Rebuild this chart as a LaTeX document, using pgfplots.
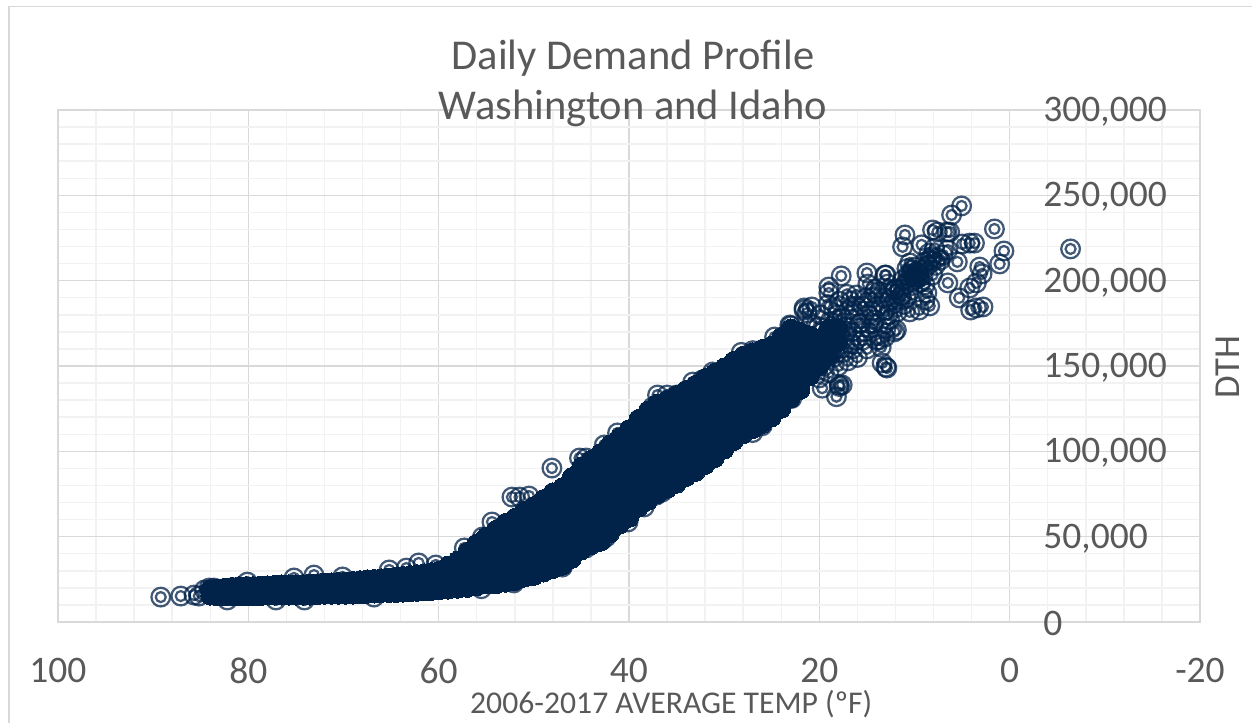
\documentclass[border=0pt]{standalone}
\usepackage{pgfplots}
\pgfplotsset{compat=1.18}
\usepackage{fontspec}
\setmainfont{Carlito}
\definecolor{navy}{HTML}{012249}
\definecolor{txt}{HTML}{595959}
\definecolor{gmaj}{HTML}{D9D9D9}
\definecolor{gmin}{HTML}{F2F2F2}
\pgfdeclareplotmark{ring2}{%
  \pgfpathcircle{\pgfpointorigin}{5.6pt}%
  \pgfpathcircle{\pgfpointorigin}{3.0pt}%
  \pgfusepathqstroke}
\begin{document}
\begin{tikzpicture}
\useasboundingbox (-34.8pt,-60.6pt) rectangle (716.4pt,373.2pt);
\draw[gmaj,line width=0.9pt] (-29.4pt,-60.6pt) -- (-29.4pt,369.3pt) -- (716.4pt,369.3pt);
\begin{axis}[
  at={(0,0)},anchor=south west,
  scale only axis,width=685.2pt,height=307.2pt,
  x dir=reverse,xmin=-20,xmax=100,ymin=0,ymax=300000,
  xtick={-20,0,20,40,60,80,100},
  ytick={0,50000,100000,150000,200000,250000,300000},
  minor x tick num=4,minor y tick num=4,
  grid=both,axis on top=false,
  major grid style={gmaj,line width=0.8pt},
  minor grid style={gmin,line width=0.9pt},
  axis line style={gmaj,line width=1pt},
  major tick length=0pt,minor tick length=0pt,
  tick style={draw=none},
  scaled y ticks=false,
  /pgf/number format/assume math mode=true,
  /pgf/number format/fixed,
  /pgf/number format/1000 sep={,},
  yticklabel pos=right,
  every tick label/.append style={font=\fontsize{22.5}{26}\selectfont,text=txt},
  yticklabel style={anchor=west,xshift=-97.5pt,yshift=-1pt},
  xticklabel style={yshift=-18pt},
  clip=false,
  title={Daily Demand Profile\\[0pt]Washington and Idaho},
  title style={at={(axis description cs:0.5035,1.033)},anchor=center,align=center,
    font=\fontsize{25.5}{30}\selectfont,text=txt},
  xlabel={2006-2017 AVERAGE TEMP (ºF)},
  xlabel style={at={(axis description cs:0.537,-0.16)},anchor=center,
    font=\fontsize{19}{22}\selectfont,text=txt},
  ylabel={DTH},
  ylabel style={at={(axis description cs:1.0245,0.498)},anchor=center,
    font=\fontsize{22}{26}\selectfont,text=txt},
]
% dense mass of overlapping daily points
\addplot[only marks,mark=*,mark size=5.7pt,mark options={fill=navy,draw=navy,line width=0pt}] coordinates {
(84,15500)(84,19000)(82.5,15000)(82.5,20000)(81,15000)(81,21000)(79.5,15000)(79.5,21000)
(78,15500)(78,21500)(76.5,15500)(76.5,22000)(75,15500)(75,22000)(73.5,15500)(73.5,22500)
(72,16000)(72,23000)(70.5,16000)(70.5,23500)(69,16000)(69,24000)(67.5,16500)(67.5,25000)
(66,17000)(66,25500)(64.5,17000)(64.5,26500)(63,17500)(63,27500)(61.5,18000)(61.5,28500)
(60,18500)(60,30000)
(83.25,15000)(83.25,19500)(81.75,15000)(81.75,20500)(80.25,15000)(80.25,21000)(78.75,15200)(78.75,21200)
(77.25,15500)(77.25,21700)(75.75,15500)(75.75,22000)(74.25,15500)(74.25,22200)(72.75,15700)(72.75,22700)
(71.25,16000)(71.25,23200)(69.75,16000)(69.75,23700)(68.25,16200)(68.25,24500)(66.75,16700)(66.75,25200)
(65.25,17000)(65.25,26000)(63.75,17200)(63.75,27000)(62.25,17700)(62.25,28000)(60.75,18200)(60.75,29200)
(66,21000)(63,22500)(61.5,23000)(60,24000)
(58.5,24000)(58.5,31000)(57.5,25000)(57.5,35000)
(56.5,25000)(56.5,33000)(56.5,41000)(55.5,26000)(55.5,35000)(55.5,44000)
(54.5,27000)(54.5,37000)(54.5,47000)(53.5,28000)(53.5,40000)(53.5,51000)
(52.5,29000)(52.5,41000)(52.5,53000)
(51.5,31000)(51.5,42000)(51.5,53000)(51.5,62000)(50.5,32000)(50.5,43000)(50.5,54000)(50.5,64000)
(49.5,33000)(49.5,44000)(49.5,55000)(49.5,67000)(48.5,35000)(48.5,46000)(48.5,58000)(48.5,69000)
(47.5,37000)(47.5,49000)(47.5,61000)(47.5,73000)(46.5,39000)(46.5,51000)(46.5,63000)(46.5,76000)
(45.5,43000)(45.5,55000)(45.5,68000)(45.5,81000)
(44.5,50000)(44.5,60000)(44.5,70000)(44.5,80000)(44.5,90000)
(43.5,52000)(43.5,62000)(43.5,72000)(43.5,84000)(43.5,93000)
(42.5,55000)(42.5,66000)(42.5,76000)(42.5,86000)(42.5,97000)
(41.5,60000)(41.5,70000)(41.5,80000)(41.5,90000)(41.5,102000)
(59,19000)(59,26000)(59,33000)
(58,19500)(58,28000)(58,36000)
(57,20000)(57,30000)(57,41000)
(56,21000)(56,29000)(56,37000)(56,46000)
(55,22000)(55,31000)(55,40000)(55,50000)
(54,22000)(54,32000)(54,43000)(54,54000)
(53,23000)(53,34000)(53,46000)(53,58000)
(52,24000)(52,36000)(52,48000)(52,61000)
(51,26000)(51,36000)(51,46000)(51,56000)(51,65000)
(50,27000)(50,37000)(50,47000)(50,58000)(50,68000)
(49,29000)(49,39000)(49,50000)(49,61000)(49,72000)
(48,31000)(48,42000)(48,53000)(48,65000)(48,76000)
(47,33000)(47,45000)(47,56000)(47,68000)(47,79000)
(46,37000)(46,49000)(46,61000)(46,73000)(46,85000)
(45,42000)(45,54000)(45,66000)(45,78000)(45,91000)
(44,45000)(44,55000)(44,65000)(44,75000)(44,85000)(44,95000)
(43,47000)(43,57000)(43,68000)(43,78000)(43,89000)(43,99000)
(42,52000)(42,62000)(42,72000)(42,83000)(42,93000)(42,104000)
(41,57000)(41,67000)(41,77000)(41,87000)(41,97000)(41,108000)
(40,61000)(40,71000)(40,81000)(40,92000)(40,102000)(40,113000)
(39,67000)(39,77000)(39,87000)(39,98000)(39,108000)(39,119000)
(38,71000)(38,81000)(38,92000)(38,102000)(38,113000)(38,124000)
(37,75000)(37,85000)(37,96000)(37,106000)(37,117000)(37,128000)
(36,78000)(36,88000)(36,98000)(36,109000)(36,120000)(36,130000)
(35,81000)(35,91000)(35,101000)(35,112000)(35,123000)(35,133000)
(34,85000)(34,95000)(34,105000)(34,115000)(34,126000)(34,136000)
(33,88000)(33,98000)(33,108000)(33,118000)(33,129000)(33,139000)
(32,92000)(32,102000)(32,112000)(32,122000)(32,133000)(32,143000)
(31,96000)(31,106000)(31,116000)(31,126000)(31,136000)(31,146000)
(30,101000)(30,110000)(30,120000)(30,130000)(30,140000)(30,149000)
(29,106000)(29,115000)(29,124000)(29,134000)(29,144000)(29,153000)
(28,110000)(28,119000)(28,128000)(28,138000)(28,147000)(28,156000)
(27,113000)(27,122000)(27,131000)(27,140000)(27,149000)(27,158000)
(26,116000)(26,125000)(26,134000)(26,143000)(26,152000)(26,160000)
(25,120000)(25,129000)(25,137000)(25,145000)(25,154000)(25,162000)
(24,125000)(24,134000)(24,142000)(24,150000)(24,158000)(24,167000)
(23,131000)(23,140000)(23,148000)(23,156000)(23,164000)(23,172000)
(22,136000)(22,145000)(22,153000)(22,161000)(22,170000)
(21,144000)(21,152000)(21,160000)(21,168000)
(20,150000)(20,158000)(20,166000)
(19,156000)(19,164000)(19,172000)
(18,164000)(18,172000)
};
% individually visible points
\addplot[only marks,mark=ring2,mark options={draw=navy,draw opacity=0.75,line width=1.35pt}] coordinates {
(89.2,14600)(87.1,15200)(85.7,15800)(85.2,15200)(84.6,18800)(84.1,19900)(83.6,19900)(82.5,18800)
(82.2,12900)(80.1,23400)(77.1,12900)(75.2,25800)(73.1,27500)(74.1,12900)(70.1,26400)(66.8,14600)
(65.2,30500)(63.4,31600)(62.1,34600)(60.3,33400)
(57.3,43400)(55.4,49800)(54.4,58600)(52.3,73200)(51.5,73200)(50.5,73800)(48.1,90200)(45.2,96100)
(44.5,96100)(42.6,103700)(41.2,110800)(52.1,22900)(55.5,19500)(47,32200)(44.5,43400)(42.8,48100)
(42.4,49800)(40.1,58600)(38.6,69700)(37.1,74400)
(37,133000)(36,133000)(35,133000)(37.5,126000)(33.3,140600)(32.3,141800)(31.2,146500)(28.2,158000)
(27,159000)(24.7,167000)(23.1,174000)(23,173500)(21.6,182800)(20.8,184600)
(36.5,76200)(38.4,67400)(30,102000)(27,111000)(26,115000)(22.9,131000)(19.7,137000)(18.2,132000)(17.9,138000)
(5.05,243800)(6.1,238500)(1.6,230300)(0.6,217400)(1.05,209800)(-6.4,218600)(11,226800)(11.25,219800)
(8.1,229700)(7.6,228500)(6.6,228500)(6.3,228500)(4.2,222000)(5,221500)(3.7,222000)(5.5,211000)
(3.15,208000)(2.9,204000)(3.5,198700)(4.2,195700)(5.3,189900)(6.5,198700)(2.8,184600)(3.5,184000)
(4.1,182800)(8.4,185200)(9.5,182800)(8.9,188700)(11.9,171100)(12.9,148800)(13.4,151800)
(7.6,213300)(8.4,212100)(7,215000)(6.5,218000)(9.25,221000)(7.9,219000)(8.9,211000)(10.2,206300)
(9.5,202200)(10.5,210400)(10,200400)(10.7,203300)(11,197500)(8.1,203300)(8.9,197500)(8.7,192800)
(10.2,194600)(11.25,200400)(9.8,205000)(12.1,194600)(13.1,203300)(12.6,194600)(11.8,181700)(10.5,181700)
(13.1,167000)(12.1,170000)(13.7,165300)(14.2,177000)(13.1,182800)(12.6,177000)(11.6,188700)(12.6,188700)
(17.7,202800)(19,196300)(19,192800)(15,204500)(13,203300)(16.1,191600)(14.2,193400)(12,195100)
(10.5,202200)(9.8,202200)(21.6,184000)(21.3,181000)(13.5,161000)(13,149400)(17.6,138900)(17.9,138900)
(21,145000)(20.7,155000)(21.2,165000)(20.8,175000)
(20,143000)(19.8,153000)(20.2,163000)(20.1,173000)(19.9,180000)
(19,146000)(18.8,156000)(19.2,166000)(18.9,176000)(19.1,186000)
(18,150000)(18.2,160000)(17.8,170000)(18.1,180000)(17.9,188000)
(17,153000)(16.8,163000)(17.2,173000)(16.9,183000)(17.1,192000)
(16,155000)(16.2,165000)(15.8,175000)(16.1,185000)
(15,160000)(15.2,170000)(14.8,180000)(15.1,190000)(14.9,198000)
(14,165000)(14.3,175000)(13.8,185000)(14.1,195000)
(13,172000)(12.8,180000)(13.2,190000)
(17.5,158000)(17.3,168000)(17.6,178000)(16.5,160000)(16.6,170000)(16.4,180000)(16.7,188000)
(15.5,165000)(15.6,175000)(15.4,185000)(14.6,172000)(14.5,182000)(14.4,190000)
(19.5,150000)(19.4,160000)(19.6,170000)(18.5,155000)(18.6,165000)(18.4,175000)(18.5,184000)
(10.8,207000)(10.3,204000)(9.9,208000)(9.6,204000)(10.1,202000)(10.4,199000)(9.4,199000)(9.1,203000)
(9,207000)(8.6,209000)(8.2,214000)(7.8,209000)(8.5,216000)(7.3,212000)(11.5,195000)(11.4,191000)
(10.9,190000)(11.1,186000)(12.3,186000)(12.8,198000)
};
\end{axis}
\end{tikzpicture}
\end{document}
